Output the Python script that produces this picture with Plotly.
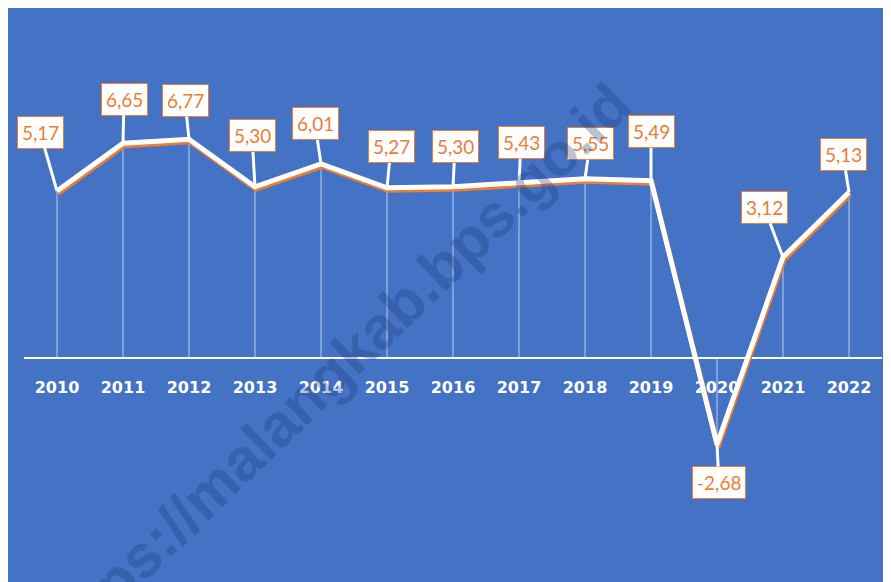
import plotly.graph_objects as go

# ---- data ----
years = [2010, 2011, 2012, 2013, 2014, 2015, 2016, 2017, 2018, 2019, 2020, 2021, 2022]
year_labels = ["2010", "2011", "2012", "2013", "2014", "2015", "2016",
               "2017", "2018", "2019", "2020", "2021", "2022"]
growth = [5.17, 6.65, 6.77, 5.30, 6.01, 5.27, 5.30, 5.43, 5.55, 5.49, -2.68, 3.12, 5.13]
value_labels = ["5,17", "6,65", "6,77", "5,30", "6,01", "5,27", "5,30",
                "5,43", "5,55", "5,49", "-2,68", "3,12", "5,13"]

# callout offsets (pixels, box centre relative to point)
label_dx = [-17, 1, -4, -3, -6, 4, 2, 2, 5, 0, 2, -19, -6]
label_dy = [-59, -44, -39, -51, -40, -41, -40, -40, -35, -49, 38, -50, -38]

OFF = 8  # page body margin
W, H = 891 - OFF, 582 - OFF
Y_MIN, Y_MAX = -6.935, 10.836
X_MIN, X_MAX = 2009.5, 2022.5
ML, MR = 24 - OFF, 9
px_per_y = H / (Y_MAX - Y_MIN)
px_per_x = (W - ML - MR) / (X_MAX - X_MIN)
shadow_dy = 2.5 / px_per_y
shadow_dx = 1.0 / px_per_x

BG = "#4472C4"
ORANGE = "#ED7D31"

fig = go.Figure()

# drop lines
dx_, dy_ = [], []
for yr, v in zip(years, growth):
    dx_ += [yr, yr, None]
    dy_ += [0, v, None]
fig.add_trace(go.Scatter(x=dx_, y=dy_, mode="lines",
                         line=dict(color="rgba(225,235,250,0.75)", width=1),
                         hoverinfo="skip", showlegend=False, xaxis="x", yaxis="y"))

# orange shadow (shifted axes)
fig.add_trace(go.Scatter(x=years, y=growth, mode="lines",
                         line=dict(color=ORANGE, width=5),
                         hoverinfo="skip", showlegend=False, xaxis="x2", yaxis="y2"))
# white main line
fig.add_trace(go.Scatter(x=years, y=growth, mode="lines",
                         line=dict(color="white", width=5),
                         showlegend=False, xaxis="x3", yaxis="y3"))

annotations = []
for yr, v, t, ax, ay in zip(years, growth, value_labels, label_dx, label_dy):
    annotations.append(dict(
        x=yr, y=v, xref="x3", yref="y3", text=t, showarrow=True,
        ax=ax, ay=ay,
        arrowhead=0, arrowwidth=3, arrowcolor="white", standoff=0,
        bgcolor="white", bordercolor=ORANGE, borderwidth=1, borderpad=4,
        font=dict(family="Lato", size=19, color=ORANGE)))

# watermark
annotations.append(dict(
    x=(327 - OFF) / W, y=1 - (370 - OFF) / H, xref="paper", yref="paper",
    text="<b>https://malangkab.bps.go.id</b>", showarrow=False, textangle=-44,
    font=dict(family="Liberation Sans", size=60, color="rgba(25,55,120,0.3)")))

zero_pos = (0 - Y_MIN) / (Y_MAX - Y_MIN)

hidden = dict(showgrid=False, zeroline=False, showline=False, ticks="",
              showticklabels=False)

fig.update_layout(
    width=W, height=H,
    margin=dict(l=ML, r=MR, t=0, b=0),
    paper_bgcolor=BG, plot_bgcolor=BG,
    showlegend=False,
    xaxis=dict(range=[X_MIN, X_MAX], tickvals=years, ticktext=year_labels,
               anchor="free", position=zero_pos, layer="below traces",
               showline=True, linecolor="white", linewidth=2,
               showgrid=False, zeroline=False, ticks="",
               ticklabelstandoff=15,
               tickfont=dict(family="DejaVu Sans", size=16, color="white", weight="bold")),
    yaxis=dict(range=[Y_MIN, Y_MAX], **hidden),
    xaxis2=dict(range=[X_MIN - shadow_dx, X_MAX - shadow_dx],
                overlaying="x", anchor="y2", **hidden),
    yaxis2=dict(range=[Y_MIN + shadow_dy, Y_MAX + shadow_dy],
                overlaying="y", anchor="x2", **hidden),
    xaxis3=dict(range=[X_MIN, X_MAX], overlaying="x", anchor="y3", **hidden),
    yaxis3=dict(range=[Y_MIN, Y_MAX], overlaying="y", anchor="x3", **hidden),
    annotations=annotations,
)

fig.write_html("out.html")
